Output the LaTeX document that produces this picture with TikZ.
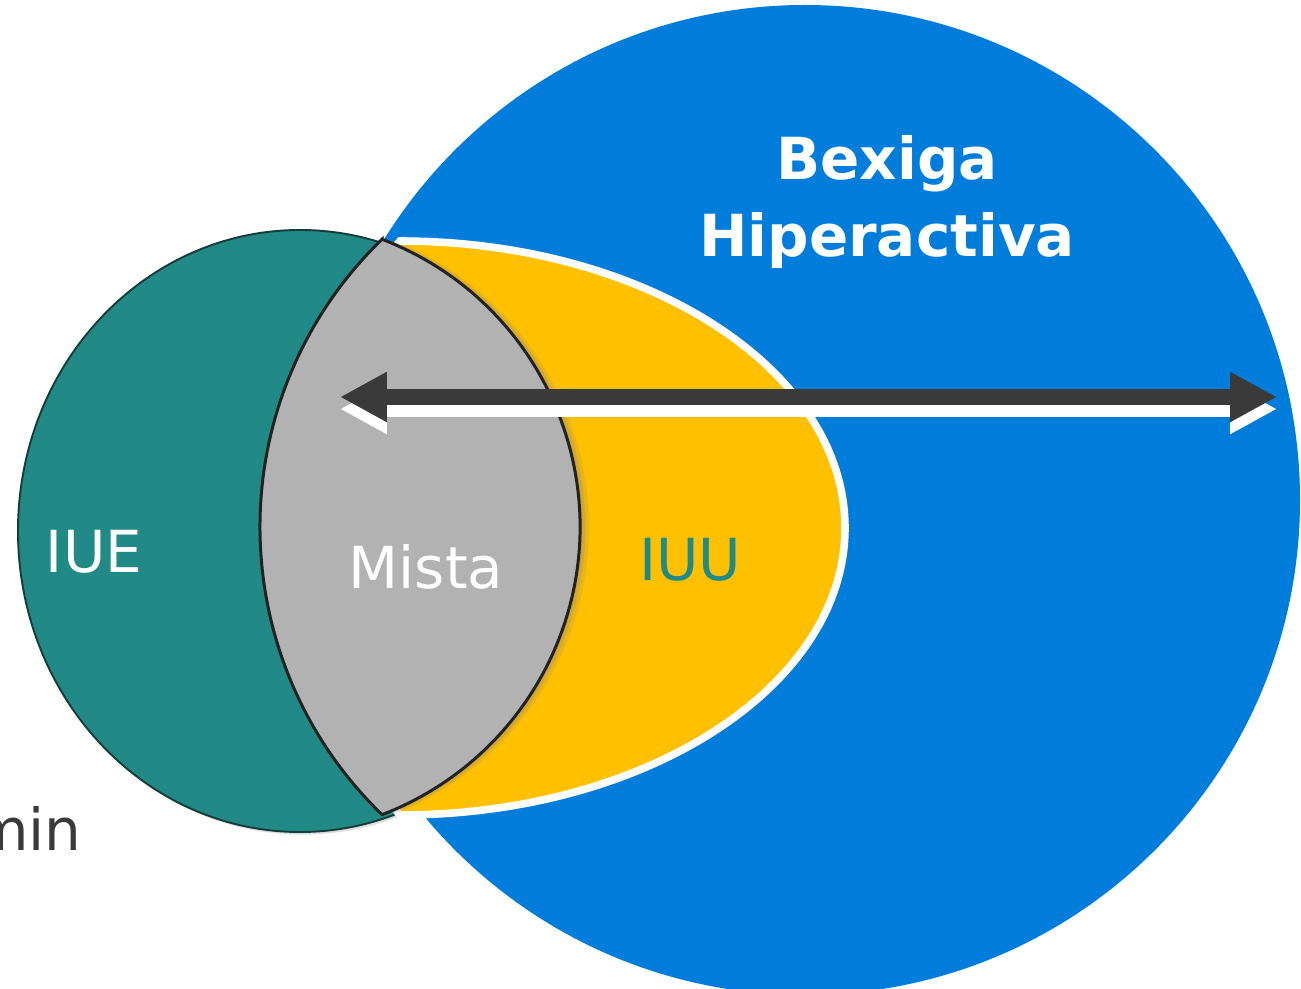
\documentclass[tikz,border=0pt]{standalone}
\usepackage{fontspec}
\setmainfont{DejaVu Sans}
\usetikzlibrary{arrows.meta,shadows,positioning}
\definecolor{bexigablue}{RGB}{0,125,219}
\definecolor{iuegreen}{RGB}{33,138,134}
\definecolor{iuedark}{RGB}{20,62,60}
\definecolor{iuuyellow}{RGB}{255,192,0}
\definecolor{mistagrey}{RGB}{178,178,178}
\definecolor{lensdark}{RGB}{34,34,34}
\definecolor{arrowdark}{RGB}{58,58,58}
\tikzset{%
  big text/.style={
    font=\fontsize{33}{40}\selectfont,
    inner sep=0pt,
    anchor=base
  },
  bold text/.style={
    big text,
    font=\fontsize{33}{40}\selectfont\bfseries
  },
  range arrow/.style={
    line width=0.32cm,
    {Triangle[length=0.94cm,width=0.94cm]}-{Triangle[length=0.94cm,width=0.94cm]}
  },
  soft shadow/.style={
    drop shadow={shadow xshift=#1, shadow yshift=-0.3pt, opacity=0.18},
    drop shadow={shadow xshift=#1*0.6, shadow yshift=-0.2pt, opacity=0.18},
    drop shadow={shadow xshift=#1*0.3, shadow yshift=-0.1pt, opacity=0.18}
  },
}

\begin{document}
\begin{tikzpicture}[x=0.02cm, y=0.02cm]
  \useasboundingbox (0,0) rectangle (1301,-989);
  % Bexiga hiperactiva
  \fill[bexigablue] (805,-500) circle [radius=495];
  % IUE
  \filldraw[fill=iuegreen, draw=iuedark, line width=1.1pt,
    drop shadow={shadow xshift=1.5pt, shadow yshift=-1.5pt, opacity=0.25}]
    (300,-531) ellipse [x radius=282, y radius=301];
  % IUU
  \filldraw[fill=iuuyellow, draw=white, line width=4.3pt]
    (400,-241) arc [start angle=90, end angle=-90, x radius=445, y radius=287]
    .. controls (300,-700) and (300,-356) .. cycle;
  % Mista
  \filldraw[fill=mistagrey, draw=lensdark, line width=1.7pt, soft shadow=5pt]
    (382.06,-239.3) arc [start angle=69.07, end angle=-69.07, radius=308]
    arc [start angle=225.99, end angle=134.01, radius=400] -- cycle;

  \node[bold text, white] (bexiga) at (887,-180) {Bexiga};
  \node[bold text, white] (hiper) at (887,-257) {Hiperactiva};
  \node[big text, white] (iue) at (94,-572) {IUE};
  \node[big text, white] (mista) at (426,-588) {Mista};
  \node[big text, iuegreen] (iuu) at (690,-580) {IUU};
  \node[big text, arrowdark, anchor=base east] (min) at (82,-850) {min};

  \coordinate (arrL) at (340,-397);
  \coordinate (arrR) at (1277,-397);
  \draw[range arrow, white, transform canvas={yshift=-0.24cm}] (arrL) -- (arrR);
  \draw[range arrow, arrowdark] (arrL) -- (arrR);
\end{tikzpicture}
\end{document}
